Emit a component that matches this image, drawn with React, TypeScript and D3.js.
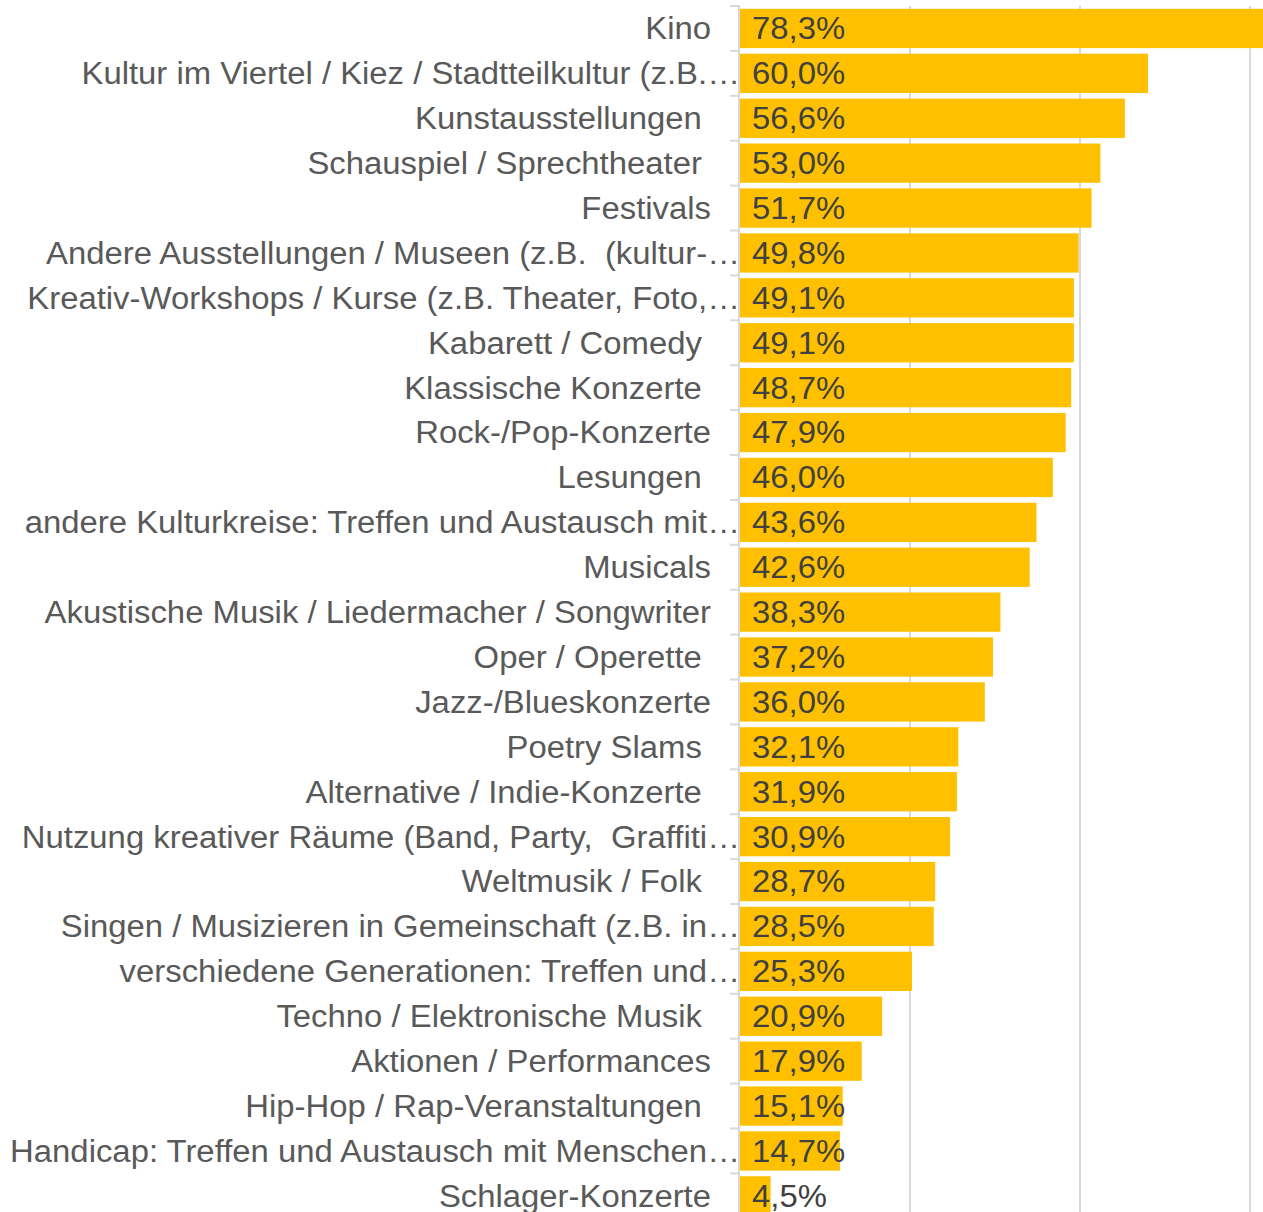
import React from "react";
import * as d3 from "d3";

const categories: string[] = [
  "Kino",
  "Kultur im Viertel / Kiez / Stadtteilkultur (z.B.…",
  "Kunstausstellungen ",
  "Schauspiel / Sprechtheater ",
  "Festivals",
  "Andere Ausstellungen / Museen (z.B.  (kultur-…",
  "Kreativ-Workshops / Kurse (z.B. Theater, Foto,…",
  "Kabarett / Comedy ",
  "Klassische Konzerte ",
  "Rock-/Pop-Konzerte",
  "Lesungen ",
  "andere Kulturkreise: Treffen und Austausch mit…",
  "Musicals",
  "Akustische Musik / Liedermacher / Songwriter",
  "Oper / Operette ",
  "Jazz-/Blueskonzerte",
  "Poetry Slams ",
  "Alternative / Indie-Konzerte ",
  "Nutzung kreativer Räume (Band, Party,  Graffiti…",
  "Weltmusik / Folk ",
  "Singen / Musizieren in Gemeinschaft (z.B. in…",
  "verschiedene Generationen: Treffen und…",
  "Techno / Elektronische Musik ",
  "Aktionen / Performances",
  "Hip-Hop / Rap-Veranstaltungen ",
  "Handicap: Treffen und Austausch mit Menschen…",
  "Schlager-Konzerte",
];

const values: number[] = [
  78.3, 60.0, 56.6, 53.0, 51.7, 49.8, 49.1, 49.1, 48.7, 47.9, 46.0, 43.6, 42.6,
  38.3, 37.2, 36.0, 32.1, 31.9, 30.9, 28.7, 28.5, 25.3, 20.9, 17.9, 15.1, 14.7,
  4.5,
];

const gridTicks: number[] = [0, 25, 50, 75];

const W = 1263;
const H = 1212;
const FONT = "'Liberation Sans', Arial, sans-serif";
const FS = 31;
const SX = 1.06;

export default function App() {
  const x = d3.scaleLinear().domain([0, 100]).range([740, 1420]);
  const y = d3
    .scaleBand<string>()
    .domain(categories)
    .range([6, 6 + categories.length * 44.9])
    .paddingInner(0.125)
    .paddingOuter(0.0625);
  const step = y.step();
  const x0 = x(0);
  const fmt = (v: number) => v.toFixed(1).replace(".", ",") + "%";

  return (
    <div style={{ position: "absolute", left: 0, top: 0 }}>
      <svg width={W} height={H} style={{ display: "block" }}>
        <rect width={W} height={H} fill="#fff" />
        {gridTicks.slice(1).map((t) => (
          <line key={t} x1={x(t)} x2={x(t)} y1={6} y2={H} stroke="#d9d9d9" strokeWidth={2} />
        ))}
        <line x1={x0 - 1} x2={x0 - 1} y1={6} y2={H} stroke="#d9d9d9" strokeWidth={2} />
        {categories.map((c, i) => (
          <line key={"t" + i} x1={x0 - 10} x2={x0} y1={6 + i * step} y2={6 + i * step} stroke="#d9d9d9" strokeWidth={2} />
        ))}
        {categories.map((c, i) => (
          <rect key={"b" + i} x={x0} y={y(c)!} width={x(values[i]) - x0} height={y.bandwidth()} fill="#FFC000" />
        ))}
        {categories.map((c, i) => {
          const truncated = c.trim().endsWith("…");
          const ax = truncated ? 740 : 711;
          const cy = y(c)! + y.bandwidth() / 2;
          return (
            <text
              key={"l" + i}
              transform={`translate(${ax},${cy + FS * 0.35}) scale(${SX},1)`}
              textAnchor="end"
              fontFamily={FONT}
              fontSize={FS}
              fill="#595959"
              style={{ whiteSpace: "pre" }}
            >
              {c}
            </text>
          );
        })}
        {categories.map((c, i) => {
          const cy = y(c)! + y.bandwidth() / 2;
          return (
            <text
              key={"v" + i}
              transform={`translate(${x0 + 12},${cy + FS * 0.35}) scale(${SX},1)`}
              fontFamily={FONT}
              fontSize={FS}
              fill="#404040"
            >
              {fmt(values[i])}
            </text>
          );
        })}
      </svg>
    </div>
  );
}
